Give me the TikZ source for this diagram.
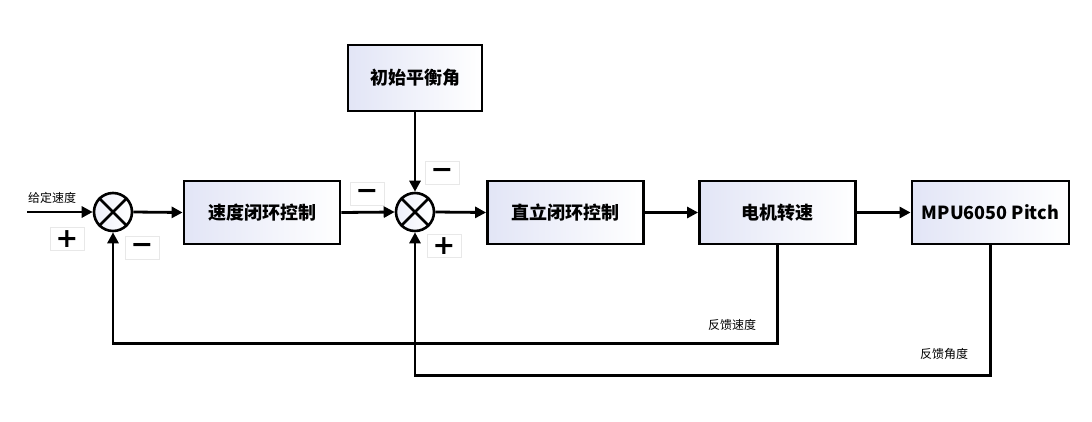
\documentclass[tikz,border=0pt]{standalone}
\usepackage{fontspec}
\setmainfont{Noto Sans CJK SC}
\newfontfamily\signfont{DejaVu Sans}
\usetikzlibrary{arrows.meta}
\definecolor{lav}{RGB}{226,229,246}
\begin{document}
\begin{tikzpicture}[x=1pt,y=-1pt,
  blk/.style={draw=black, line width=2.8pt, minimum width=156pt, minimum height=63pt,
    left color=lav, right color=white, inner sep=0pt,
    font=\fontsize{18}{21}\selectfont\bfseries},
  sumj/.style={circle, draw=black, line width=2.6pt, minimum size=38pt, inner sep=0pt,
    left color=lav!60, right color=white},
  sgn/.style={draw=gray!18, line width=0.8pt, fill=white, minimum width=34pt, minimum height=23pt,
    inner sep=0pt, font=\signfont\bfseries\fontsize{27}{27}\selectfont},
  arr/.style={line width=2.8pt, -{Triangle[length=11pt,width=11pt]}},
  lbl/.style={font=\fontsize{12}{14}\selectfont, inner sep=0pt}]
\useasboundingbox (0,0) rectangle (1092,421);
\node[sumj] (s1) at (113,212) {};
\node[blk] (b1) at (262,212.5) {速度闭环控制};
\node[sumj] (s2) at (415,212) {};
\node[blk, minimum width=134pt, minimum height=66pt] (top) at (415,78) {初始平衡角};
\node[blk] (b2) at (565.5,212.5) {直立闭环控制};
\node[blk] (b3) at (777.5,212.5) {电机转速};
\node[blk, minimum width=157pt] (b4) at (990.5,212.5) {MPU6050 Pitch};
\coordinate (in) at (27,212);
% crosses
\foreach \s in {s1,s2}{
  \draw[line width=2.6pt] (\s.north east) -- (\s.south west);
  \draw[line width=2.6pt] (\s.north west) -- (\s.south east);
}
% forward path
\draw[arr] (in) -- (s1.west);
\node[lbl] (lin) at (52,198) {给定速度};
\draw[arr] (s1.east) -- (b1.west);
\draw[arr] (b1.east) -- (s2.west);
\draw[arr] (top.south) -- (s2.north);
\draw[arr] (s2.east) -- (b2.west);
\draw[arr] (b2.east) -- (b3.west);
\draw[arr] (b3.east) -- (b4.west);
% feedback
\draw[arr] (b3.south) -- ++(0,98) -| (s1.south);
\draw[arr] (b4.south) -- ++(0,130) -| (s2.south);
\node[lbl] (l1) at (732,325) {反馈速度};
\node[lbl] (l2) at (944,354) {反馈角度};
% signs
\node[sgn] (p1) at (67,239) {+};
\node[sgn] (m1) at (142,248) {−};
\node[sgn] (m2) at (367,194) {−};
\node[sgn] (m3) at (442,173) {−};
\node[sgn] (p2) at (444,246) {+};
\end{tikzpicture}
\end{document}
